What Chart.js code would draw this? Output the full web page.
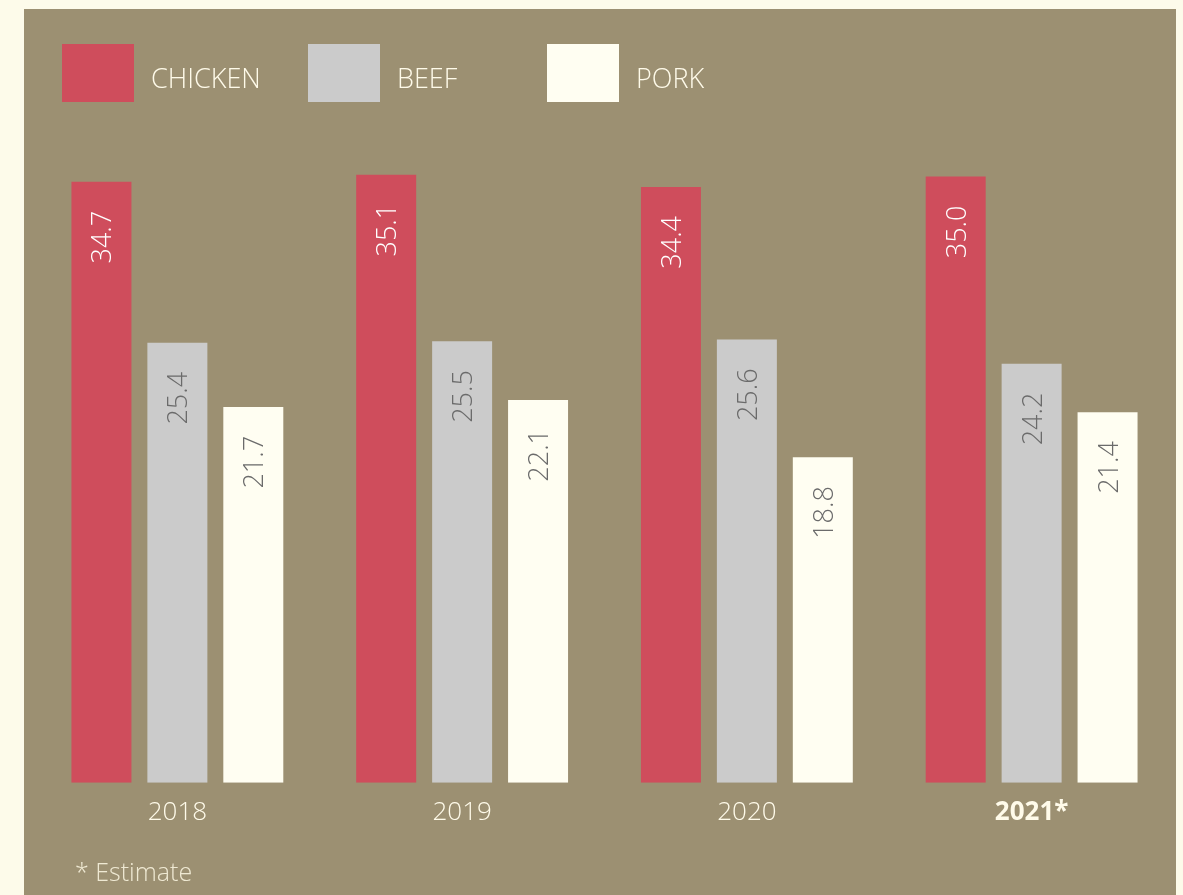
<!DOCTYPE html>
<html>
<head>
<meta charset="utf-8">
<script src="https://cdn.jsdelivr.net/npm/chart.js@4"></script>
<style>
  html, body { margin: 0; padding: 0; background: #fdfbea; overflow: hidden; }
  body { width: 1183px; height: 895px; position: relative; font-family: "Open Sans", sans-serif; }
  #panel { position: absolute; left: 24px; top: 9px; width: 1152px; height: 886px; background: #9c9072; }
  #chartBox { position: absolute; left: 0; top: 0; width: 1152px; height: 886px; }
  .legend-item { position: absolute; top: 35px; height: 58px; display: flex; align-items: center; }
  .legend-item span.box { display: inline-block; width: 72px; height: 58px; }
  .legend-item span.txt { color: #fffbea; font-size: 27px; font-weight: 300; margin-left: 17px; position: relative; top: 4px; }
  #note { position: absolute; left: 51px; top: 845px; color: #efe9d3; font-size: 25px; font-weight: 300; }
</style>
</head>
<body>
<div id="panel">
  <div id="chartBox"><canvas id="barChartMeat" width="1152" height="886"></canvas></div>
  <div id="legend"></div>
  <div id="note">* Estimate</div>
</div>
<script>
const years = ['2018', '2019', '2020', '2021*'];
const series = ['CHICKEN', 'BEEF', 'PORK'];
const chicken = [34.7, 35.1, 34.4, 35.0];
const beef = [25.4, 25.5, 25.6, 24.2];
const pork = [21.7, 22.1, 18.8, 21.4];
const colors = ['#cf4d5c', '#cbcbcb', '#fffef2'];
const labelColors = ['#ffffff', '#6b6b6b', '#6b6b6b'];
const legendLeft = [38, 284, 523];

// legend
const legend = document.getElementById('legend');
series.forEach(function (name, i) {
  const item = document.createElement('div');
  item.className = 'legend-item';
  item.style.left = legendLeft[i] + 'px';
  item.innerHTML = '<span class="box" style="background:' + colors[i] + '"></span><span class="txt">' + name + '</span>';
  legend.appendChild(item);
});

const valueLabels = {
  id: 'valueLabels',
  afterDatasetsDraw(chart) {
    const ctx = chart.ctx;
    ctx.save();
    ctx.font = '300 27px "Open Sans"';
    chart.data.datasets.forEach(function (ds, i) {
      const meta = chart.getDatasetMeta(i);
      meta.data.forEach(function (bar, j) {
        const txt = ds.data[j].toFixed(1);
        const m = ctx.measureText(txt);
        const asc = m.actualBoundingBoxAscent;
        ctx.save();
        ctx.translate(bar.x, bar.y + 29);
        ctx.rotate(-Math.PI / 2);
        ctx.fillStyle = labelColors[i];
        ctx.textAlign = 'right';
        ctx.textBaseline = 'alphabetic';
        ctx.fillText(txt, 0, asc / 2);
        ctx.restore();
      });
    });
    ctx.restore();
  }
};

const ctx = document.getElementById('barChartMeat');
const data = {
  labels: years,
  datasets: [
    { label: series[0], data: chicken, backgroundColor: colors[0] },
    { label: series[1], data: beef, backgroundColor: colors[1] },
    { label: series[2], data: pork, backgroundColor: colors[2] }
  ]
};

const chart = new Chart(ctx, {
  type: 'bar',
  data: data,
  plugins: [valueLabels],
  options: {
    responsive: false,
    animation: false,
    categoryPercentage: 0.8,
    barPercentage: 0.79,
    layout: { padding: { top: 81, left: 11, right: 2, bottom: 53 } },
    plugins: {
      legend: { display: false },
      tooltip: { enabled: false }
    },
    scales: {
      y: { display: false, min: 0, max: 40 },
      x: {
        grid: { display: false, drawTicks: false },
        border: { display: false },
        ticks: {
          color: '#fffbea',
          padding: 14,
          font: function (c) {
            return { family: '"Open Sans"', size: 26, weight: c.index === 3 ? 'bold' : 300 };
          }
        }
      }
    }
  }
});
</script>
</body>
</html>
